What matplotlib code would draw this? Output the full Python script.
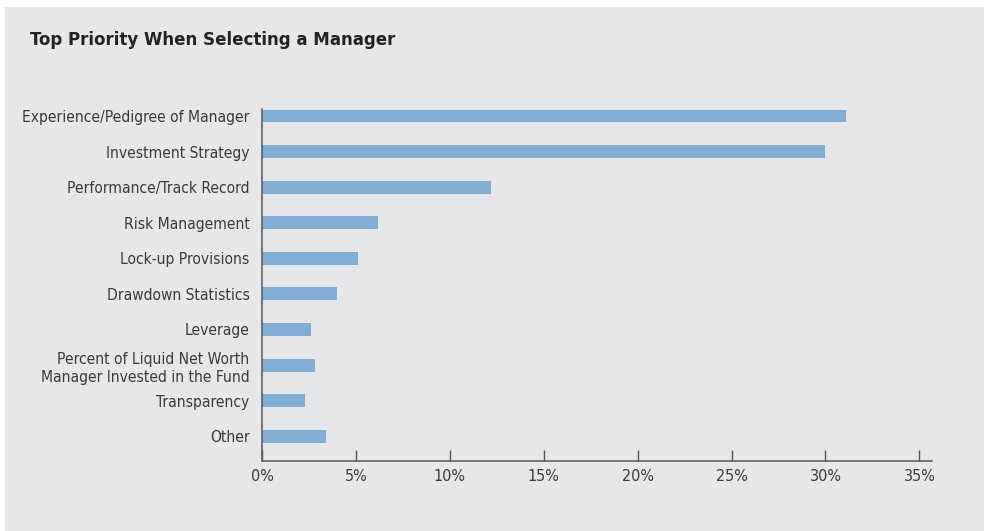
import numpy as np
import matplotlib.pyplot as plt
from matplotlib.patches import Rectangle

# survey answers, top to bottom
categories = ["Experience/Pedigree of Manager", "Investment Strategy",
              "Performance/Track Record", "Risk Management", "Lock-up Provisions",
              "Drawdown Statistics", "Leverage",
              "Percent of Liquid Net Worth\nManager Invested in the Fund",
              "Transparency", "Other"]
shares = [31.1, 30.0, 12.2, 6.2, 5.1, 4.0, 2.6, 2.8, 2.3, 3.4]
xticks = [0, 5, 10, 15, 20, 25, 30, 35]
xticklabels = ["0%", "5%", "10%", "15%", "20%", "25%", "30%", "35%"]

plt.rcParams['font.family'] = ['DejaVu Sans']
plt.rcParams['font.stretch'] = 'condensed'
txt = '#3a3a3a'
bg = '#e6e7e8'

fig = plt.figure(figsize=(9.84, 5.31), dpi=100, facecolor='white')
panel = Rectangle((5/984, 0), 1, 1 - 7/531, transform=fig.transFigure,
                  facecolor=bg, edgecolor='none', zorder=-10)
fig.add_artist(panel)
fig.text(30/984, 1 - 40/531, "Top Priority When Selecting a Manager",
         fontsize=13.3, fontweight='bold', color='#222222', va='center')

ax = fig.add_axes([262/984, 1 - 460.5/531, 670/984, 351/531])
ax.set_facecolor('none')
y = np.arange(len(categories))
ax.barh(y, shares, height=0.37, color='#80aed5')
ax.set_ylim(len(categories) - 1 + 0.68, -0.18)
ax.set_xlim(0, 35.67)
ax.set_yticks(y)
ax.set_yticklabels(categories, fontsize=11.2, color=txt, linespacing=1.25)
ax.tick_params(axis='y', length=0, pad=9)
ax.set_xticks(xticks)
ax.set_xticklabels(xticklabels, fontsize=11.5, color=txt)
ax.tick_params(axis='x', direction='in', length=8, width=1, color='#555555', pad=6)
for s in ['top', 'right']:
    ax.spines[s].set_visible(False)
for s in ['left', 'bottom']:
    ax.spines[s].set_color('#555555')
    ax.spines[s].set_linewidth(1.1)

plt.savefig('out.png', dpi=100, facecolor='white')
